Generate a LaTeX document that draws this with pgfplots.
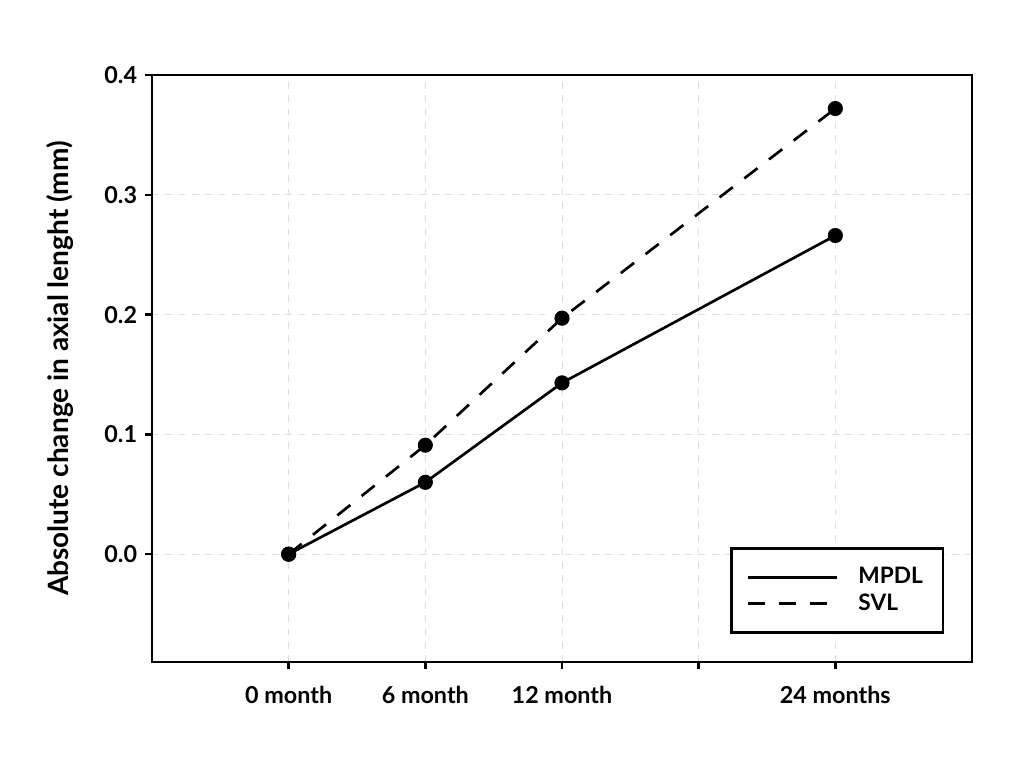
\documentclass[border=0pt]{standalone}
\usepackage{fontspec}
\setmainfont{Lato}
\usepackage{pgfplots}
\pgfplotsset{compat=1.18}

\begin{document}
\begin{tikzpicture}[font=\bfseries]
\useasboundingbox (-68.4pt,-47.7pt) rectangle (392.4pt,297.9pt);
\begin{axis}[
	at={(0,0)}, anchor=south west,
	scale only axis,
	width=369pt, height=264.15pt,
	xmin=-6, xmax=30,
	ymin=-0.09, ymax=0.4,
	xtick={0,6,12,18,24},
	xticklabels={0 month,6 month,12 month,,24 months},
	ytick={0,0.1,0.2,0.3,0.4},
	yticklabel style={/pgf/number format/.cd,fixed,fixed zerofill,precision=1},
	xticklabel style={yshift=-4pt},
	/pgf/number format/assume math mode=true,
	tick label style={font=\bfseries\fontsize{10.5}{12}\selectfont},
	ylabel={Absolute change in axial lenght (mm)},
	ylabel style={font=\bfseries\fontsize{12.6}{14}\selectfont, yshift=7pt},
	tick align=outside,
	tick pos=left,
	major tick length=3.2pt,
	tick style={line width=1.1pt, black},
	axis line style={line width=1.1pt},
	grid=major,
	major grid style={dashed, gray!25, line width=0.4pt},
	legend style={at={(0.966,0.048)}, anchor=south east, draw=black, line width=1.1pt,
		font=\bfseries\fontsize{10.2}{12}\selectfont, row sep=-1pt, inner xsep=7pt, inner ysep=6.5pt},
	legend cell align=left,
	legend image code/.code={\draw[#1, mark=none] (0pt,0pt) -- (40pt,0pt); \path (47pt,0pt);},
]
\addplot[black, line width=1.2pt, mark=*, mark size=2.8pt] coordinates {(0,0) (6,0.060) (12,0.143) (24,0.266)};
\addlegendentry{MPDL}
\addplot[black, line width=1.2pt, dash pattern=on 7.5pt off 6.5pt, mark=*, mark size=2.8pt, mark options={solid}] coordinates {(0,0) (6,0.091) (12,0.197) (24,0.372)};
\addlegendentry{SVL}
\end{axis}
\end{tikzpicture}
\end{document}
